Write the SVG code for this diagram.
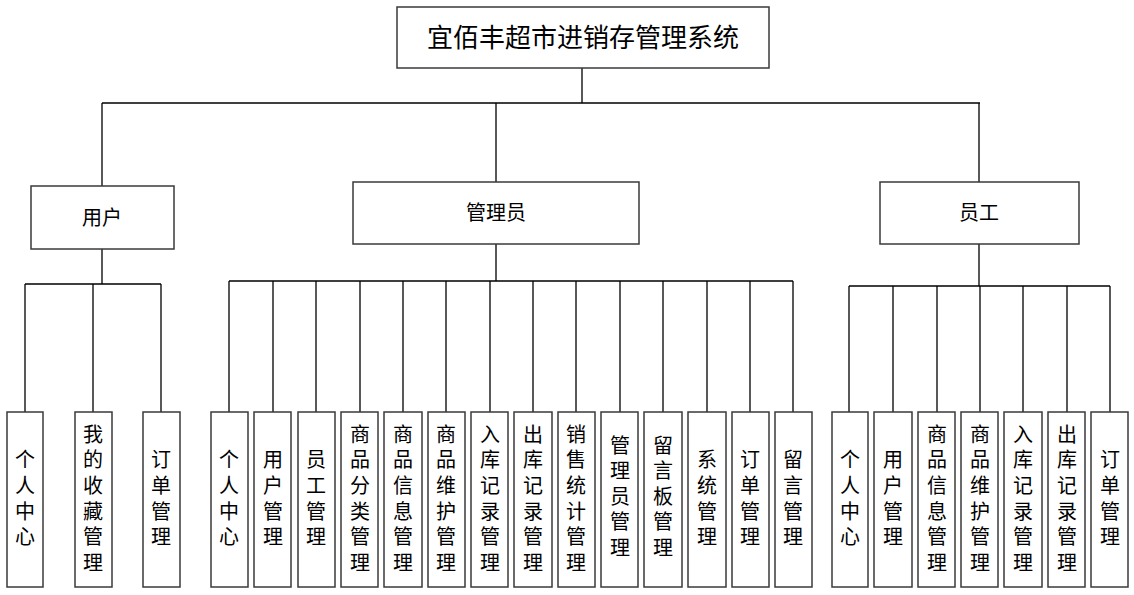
<svg xmlns="http://www.w3.org/2000/svg" width="1134" height="595" viewBox="0 0 1134 595">
<style>
.box{fill:#fff;stroke:#3a3a3a;stroke-width:1.5}
.ln{stroke:#000;stroke-width:1.3;fill:none}
text{font-family:"Noto Sans CJK SC","Noto Sans",sans-serif;fill:#000;text-anchor:middle}
.t{font-size:26px}
.m{font-size:20px}
.l{font-size:20px;writing-mode:vertical-rl;letter-spacing:5.6px}
</style>
<rect width="1134" height="595" fill="#fff"/>
<g id="connectors" class="ln">
<path d="M582 68V103M102 103H980M102 103V186M496 103V182M979 103V182"/>
<path d="M102 249V284M25 284H161M25 284V412M93 284V412M161 284V412"/>
<path d="M496 244V281M229 281H793M229 281V412M273 281V412M316 281V412M360 281V412M403 281V412M446 281V412M490 281V412M533 281V412M576 281V412M620 281V412M663 281V412M707 281V412M750 281V412M793 281V412"/>
<path d="M979 244V286M849 286H1110M849 286V412M893 286V412M937 286V412M980 286V412M1023 286V412M1067 286V412M1110 286V412"/>
</g>
<g id="root"><rect class="box" x="397" y="7" width="372" height="61"/><text class="t" x="583" y="47">宜佰丰超市进销存管理系统</text></g>
<g id="user"><rect class="box" x="31" y="186" width="143" height="63"/><text class="m" x="102" y="225">用户</text></g>
<g id="admin"><rect class="box" x="353" y="182" width="286" height="62"/><text class="m" x="496" y="220">管理员</text></g>
<g id="staff"><rect class="box" x="880" y="182" width="199" height="62"/><text class="m" x="979" y="220">员工</text></g>

<g id="u1"><rect class="box" x="7" y="412" width="36" height="175"/><text class="l" x="25" y="501">个人中心</text></g>
<g id="u2"><rect class="box" x="75" y="412" width="37" height="175"/><text class="l" x="93" y="501">我的收藏管理</text></g>
<g id="u3"><rect class="box" x="143" y="412" width="37" height="175"/><text class="l" x="161" y="501">订单管理</text></g>

<g id="a1"><rect class="box" x="211" y="412" width="37" height="175"/><text class="l" x="229" y="501">个人中心</text></g>
<g id="a2"><rect class="box" x="254" y="412" width="37" height="175"/><text class="l" x="273" y="501">用户管理</text></g>
<g id="a3"><rect class="box" x="298" y="412" width="37" height="175"/><text class="l" x="316" y="501">员工管理</text></g>
<g id="a4"><rect class="box" x="341" y="412" width="37" height="175"/><text class="l" x="360" y="501">商品分类管理</text></g>
<g id="a5"><rect class="box" x="384" y="412" width="38" height="175"/><text class="l" x="403" y="501">商品信息管理</text></g>
<g id="a6"><rect class="box" x="428" y="412" width="37" height="175"/><text class="l" x="446" y="501">商品维护管理</text></g>
<g id="a7"><rect class="box" x="471" y="412" width="37" height="175"/><text class="l" x="490" y="501">入库记录管理</text></g>
<g id="a8"><rect class="box" x="514" y="412" width="38" height="175"/><text class="l" x="533" y="501">出库记录管理</text></g>
<g id="a9"><rect class="box" x="558" y="412" width="37" height="175"/><text class="l" x="576" y="501">销售统计管理</text></g>
<g id="a10"><rect class="box" x="601" y="412" width="37" height="175"/><text class="l" x="620" y="499">管理员管理</text></g>
<g id="a11"><rect class="box" x="644" y="412" width="38" height="175"/><text class="l" x="663" y="499">留言板管理</text></g>
<g id="a12"><rect class="box" x="688" y="412" width="38" height="175"/><text class="l" x="707" y="501">系统管理</text></g>
<g id="a13"><rect class="box" x="732" y="412" width="37" height="175"/><text class="l" x="750" y="501">订单管理</text></g>
<g id="a14"><rect class="box" x="775" y="412" width="37" height="175"/><text class="l" x="793" y="501">留言管理</text></g>

<g id="s1"><rect class="box" x="832" y="412" width="36" height="175"/><text class="l" x="850" y="501">个人中心</text></g>
<g id="s2"><rect class="box" x="874" y="412" width="38" height="175"/><text class="l" x="893" y="501">用户管理</text></g>
<g id="s3"><rect class="box" x="918" y="412" width="37" height="175"/><text class="l" x="937" y="501">商品信息管理</text></g>
<g id="s4"><rect class="box" x="961" y="412" width="37" height="175"/><text class="l" x="980" y="501">商品维护管理</text></g>
<g id="s5"><rect class="box" x="1004" y="412" width="38" height="175"/><text class="l" x="1023" y="501">入库记录管理</text></g>
<g id="s6"><rect class="box" x="1048" y="412" width="37" height="175"/><text class="l" x="1067" y="501">出库记录管理</text></g>
<g id="s7"><rect class="box" x="1091" y="412" width="37" height="175"/><text class="l" x="1110" y="501">订单管理</text></g>
</svg>
